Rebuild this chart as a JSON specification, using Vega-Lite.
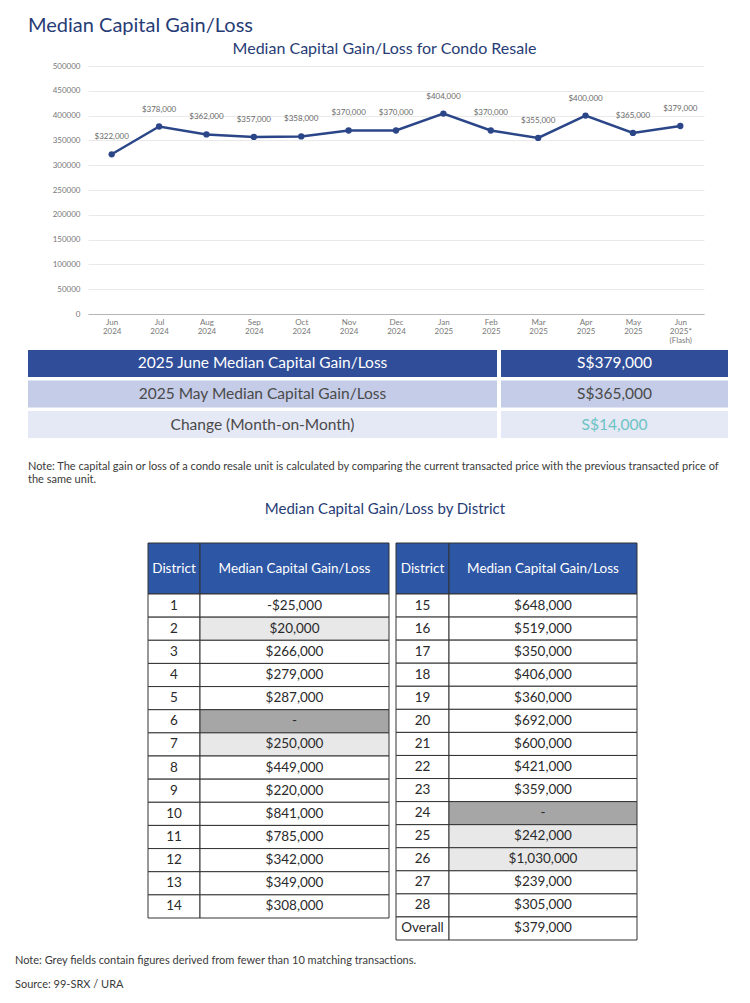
{
  "$schema": "https://vega.github.io/schema/vega-lite/v6.json",
  "background": "white",
  "padding": {"left": 15, "top": 16, "right": 10, "bottom": 10},
  "config": {
    "view": {"stroke": null},
    "font": "Lato",
    "locale": {"number": {"decimal": ".", "thousands": ",", "grouping": [3], "currency": ["$", ""], "minus": "-"}}
  },
  "datasets": {
    "monthly": [
      {"month": "Jun 2024", "gain": 322000},
      {"month": "Jul 2024", "gain": 378000},
      {"month": "Aug 2024", "gain": 362000},
      {"month": "Sep 2024", "gain": 357000},
      {"month": "Oct 2024", "gain": 358000},
      {"month": "Nov 2024", "gain": 370000},
      {"month": "Dec 2024", "gain": 370000},
      {"month": "Jan 2025", "gain": 404000},
      {"month": "Feb 2025", "gain": 370000},
      {"month": "Mar 2025", "gain": 355000},
      {"month": "Apr 2025", "gain": 400000},
      {"month": "May 2025", "gain": 365000},
      {"month": "Jun 2025* (Flash)", "gain": 379000}
    ],
    "summary": [
      {"metric": "2025 June Median Capital Gain/Loss", "value": "S$379,000", "kind": "current"},
      {"metric": "2025 May Median Capital Gain/Loss", "value": "S$365,000", "kind": "previous"},
      {"metric": "Change (Month-on-Month)", "value": "S$14,000", "kind": "change"}
    ],
    "headD": [{"column": "District"}],
    "headV": [{"column": "Median Capital Gain/Loss"}],
    "districtsA": [
      {"district": "1", "gain": -25000, "flag": "regular"},
      {"district": "2", "gain": 20000, "flag": "under10"},
      {"district": "3", "gain": 266000, "flag": "regular"},
      {"district": "4", "gain": 279000, "flag": "regular"},
      {"district": "5", "gain": 287000, "flag": "regular"},
      {"district": "6", "gain": null, "flag": "nodata"},
      {"district": "7", "gain": 250000, "flag": "under10"},
      {"district": "8", "gain": 449000, "flag": "regular"},
      {"district": "9", "gain": 220000, "flag": "regular"},
      {"district": "10", "gain": 841000, "flag": "regular"},
      {"district": "11", "gain": 785000, "flag": "regular"},
      {"district": "12", "gain": 342000, "flag": "regular"},
      {"district": "13", "gain": 349000, "flag": "regular"},
      {"district": "14", "gain": 308000, "flag": "regular"}
    ],
    "districtsB": [
      {"district": "15", "gain": 648000, "flag": "regular"},
      {"district": "16", "gain": 519000, "flag": "regular"},
      {"district": "17", "gain": 350000, "flag": "regular"},
      {"district": "18", "gain": 406000, "flag": "regular"},
      {"district": "19", "gain": 360000, "flag": "regular"},
      {"district": "20", "gain": 692000, "flag": "regular"},
      {"district": "21", "gain": 600000, "flag": "regular"},
      {"district": "22", "gain": 421000, "flag": "regular"},
      {"district": "23", "gain": 359000, "flag": "regular"},
      {"district": "24", "gain": null, "flag": "nodata"},
      {"district": "25", "gain": 242000, "flag": "under10"},
      {"district": "26", "gain": 1030000, "flag": "under10"},
      {"district": "27", "gain": 239000, "flag": "regular"},
      {"district": "28", "gain": 305000, "flag": "regular"},
      {"district": "Overall", "gain": 379000, "flag": "regular"}
    ]
  },
  "title": {
    "text": "Median Capital Gain/Loss",
    "anchor": "start", "frame": "group", "dx": 13,
    "fontSize": 20, "fontWeight": "normal", "color": "#273c75", "font": "Lato",
    "baseline": "alphabetic", "offset": -11
  },
  "vconcat": [
    {
      "width": 689,
      "height": 248,
      "title": {
        "text": "Median Capital Gain/Loss for Condo Resale",
        "anchor": "middle", "frame": "group", "dx": 25,
        "fontSize": 16, "fontWeight": "normal", "color": "#273c75", "font": "Lato",
        "baseline": "alphabetic", "offset": -8
      },
      "data": {"name": "monthly"},
      "encoding": {
        "x": {
          "field": "month", "type": "nominal", "sort": null,
          "scale": {"type": "point", "padding": 0.5, "range": [73, 689]},
          "axis": {
            "title": null, "labelAngle": 0, "labelExpr": "split(datum.value, ' ')",
            "labelFontSize": 8, "labelColor": "#777777", "labelLineHeight": 9,
            "ticks": false, "labelPadding": 4, "domainColor": "#b5b5b5", "grid": false
          }
        },
        "y": {
          "field": "gain", "type": "quantitative",
          "scale": {"domain": [0, 500000]},
          "axis": {
            "title": null, "values": [0, 50000, 100000, 150000, 200000, 250000, 300000, 350000, 400000, 450000, 500000],
            "format": "d", "labelFontSize": 8, "labelColor": "#777777",
            "ticks": false, "domain": false, "labelPadding": 8, "offset": -73,
            "gridColor": "#e9e9e9", "gridWidth": 1
          }
        }
      },
      "layer": [
        {"mark": {"type": "line", "color": "#2b4688", "strokeWidth": 2.5}},
        {"mark": {"type": "point", "filled": true, "color": "#2b4688", "size": 40, "opacity": 1}},
        {
          "mark": {"type": "text", "fontSize": 8, "color": "#6a6a6a", "dy": -17, "baseline": "middle"},
          "encoding": {"text": {"field": "gain", "type": "quantitative", "format": "$,.0f"}}
        }
      ]
    },
    {
      "width": 713,
      "height": 124,
      "data": {"name": "summary"},
      "title": {
        "text": ["Note: The capital gain or loss of a condo resale unit is calculated by comparing the current transacted price with the previous transacted price of", "the same unit."],
        "orient": "bottom", "anchor": "start", "frame": "group", "dx": 13,
        "fontSize": 11, "fontWeight": "normal", "color": "#3a3a3a", "font": "Lato",
        "baseline": "top", "lineHeight": 13, "offset": 23
      },
      "encoding": {
        "y": {"field": "metric", "type": "nominal", "sort": null, "axis": null, "scale": {"range": [36, 124], "paddingInner": 0.12, "paddingOuter": 0}}
      },
      "layer": [
        {
          "encoding": {"x": {"datum": "Metric", "type": "nominal", "axis": null, "scale": {"range": [13, 482], "paddingInner": 0, "paddingOuter": 0}}},
          "layer": [
            {
              "mark": {"type": "rect"},
              "encoding": {"fill": {"field": "kind", "type": "nominal", "legend": null, "scale": {"domain": ["current", "previous", "change"], "range": ["#2f4d98", "#c4cce7", "#e5e8f5"]}}}
            },
            {
              "mark": {"type": "text", "fontSize": 15.5, "baseline": "middle"},
              "encoding": {
                "text": {"field": "metric"},
                "color": {"field": "kind", "type": "nominal", "legend": null, "scale": {"domain": ["current", "previous", "change"], "range": ["#ffffff", "#4a4a4a", "#4a4a4a"]}}
              }
            }
          ]
        },
        {
          "encoding": {"x": {"datum": "Value", "type": "nominal", "axis": null, "scale": {"range": [486, 713], "paddingInner": 0, "paddingOuter": 0}}},
          "layer": [
            {
              "mark": {"type": "rect"},
              "encoding": {"fill": {"field": "kind", "type": "nominal", "legend": null, "scale": {"domain": ["current", "previous", "change"], "range": ["#2f4d98", "#c4cce7", "#e5e8f5"]}}}
            },
            {
              "mark": {"type": "text", "fontSize": 15.5, "baseline": "middle"},
              "encoding": {
                "text": {"field": "value"},
                "color": {"field": "kind", "type": "nominal", "legend": null, "scale": {"domain": ["current", "previous", "change"], "range": ["#ffffff", "#4a4a4a", "#6cc3c4"]}}
              }
            }
          ]
        }
      ],
      "resolve": {"scale": {"x": "independent", "color": "independent"}}
    },
    {
      "width": 622,
      "height": 156,
      "title": {
        "text": "Median Capital Gain/Loss by District",
        "anchor": "middle", "frame": "group", "dx": 59,
        "fontSize": 15, "fontWeight": "normal", "color": "#273c75", "font": "Lato",
        "baseline": "alphabetic", "offset": -91
      },
      "encoding": {
        "y": {"datum": "header", "type": "nominal", "axis": null, "scale": {"range": [105, 156], "paddingInner": 0, "paddingOuter": 0}}
      },
      "layer": [
        {
          "data": {"name": "headD"},
          "encoding": {"x": {"datum": "District", "type": "nominal", "axis": null, "scale": {"range": [133, 185], "paddingInner": 0, "paddingOuter": 0}}},
          "layer": [
            {"mark": {"type": "rect", "fill": "#2d56a5", "stroke": "#333333", "strokeWidth": 1}},
            {"mark": {"type": "text", "fontSize": 13.5, "color": "#ffffff", "baseline": "middle"}, "encoding": {"text": {"field": "column"}}}
          ]
        },
        {
          "data": {"name": "headV"},
          "encoding": {"x": {"datum": "Median", "type": "nominal", "axis": null, "scale": {"range": [185, 374], "paddingInner": 0, "paddingOuter": 0}}},
          "layer": [
            {"mark": {"type": "rect", "fill": "#2d56a5", "stroke": "#333333", "strokeWidth": 1}},
            {"mark": {"type": "text", "fontSize": 13.5, "color": "#ffffff", "baseline": "middle"}, "encoding": {"text": {"field": "column"}}}
          ]
        },
        {
          "data": {"name": "headD"},
          "encoding": {"x": {"datum": "District", "type": "nominal", "axis": null, "scale": {"range": [381, 434], "paddingInner": 0, "paddingOuter": 0}}},
          "layer": [
            {"mark": {"type": "rect", "fill": "#2d56a5", "stroke": "#333333", "strokeWidth": 1}},
            {"mark": {"type": "text", "fontSize": 13.5, "color": "#ffffff", "baseline": "middle"}, "encoding": {"text": {"field": "column"}}}
          ]
        },
        {
          "data": {"name": "headV"},
          "encoding": {"x": {"datum": "Median", "type": "nominal", "axis": null, "scale": {"range": [434, 622], "paddingInner": 0, "paddingOuter": 0}}},
          "layer": [
            {"mark": {"type": "rect", "fill": "#2d56a5", "stroke": "#333333", "strokeWidth": 1}},
            {"mark": {"type": "text", "fontSize": 13.5, "color": "#ffffff", "baseline": "middle"}, "encoding": {"text": {"field": "column"}}}
          ]
        }
      ],
      "resolve": {"scale": {"x": "independent"}}
    },
    {
      "width": 622,
      "height": 346,
      "title": {
        "text": ["Note: Grey fields contain figures derived from fewer than 10 matching transactions.", "Source: 99-SRX / URA"],
        "orient": "bottom", "anchor": "start", "frame": "group", "dx": 0,
        "fontSize": 11, "fontWeight": "normal", "color": "#3a3a3a", "font": "Lato",
        "baseline": "top", "lineHeight": 24, "offset": 14
      },
      "layer": [
        {
          "data": {"name": "districtsA"},
          "encoding": {
            "x": {"datum": "District", "type": "nominal", "axis": null, "scale": {"range": [133, 185], "paddingInner": 0, "paddingOuter": 0}},
            "y": {"field": "district", "type": "nominal", "sort": null, "axis": null, "scale": {"range": [0, 324], "paddingInner": 0, "paddingOuter": 0}}
          },
          "layer": [
            {"mark": {"type": "rect", "fill": "#ffffff", "stroke": "#333333", "strokeWidth": 1}},
            {"mark": {"type": "text", "fontSize": 13.5, "color": "#2a2a2a", "baseline": "middle"}, "encoding": {"text": {"field": "district"}}}
          ]
        },
        {
          "data": {"name": "districtsA"},
          "encoding": {
            "x": {"datum": "Median", "type": "nominal", "axis": null, "scale": {"range": [185, 374], "paddingInner": 0, "paddingOuter": 0}},
            "y": {"field": "district", "type": "nominal", "sort": null, "axis": null, "scale": {"range": [0, 324], "paddingInner": 0, "paddingOuter": 0}}
          },
          "layer": [
            {
              "mark": {"type": "rect", "stroke": "#333333", "strokeWidth": 1},
              "encoding": {"fill": {"field": "flag", "type": "nominal", "legend": null, "scale": {"domain": ["regular", "under10", "nodata"], "range": ["#ffffff", "#e8e8e8", "#a6a6a6"]}}}
            },
            {
              "mark": {"type": "text", "fontSize": 13.5, "color": "#2a2a2a", "baseline": "middle"},
              "encoding": {"text": {"condition": {"test": "datum.gain === null", "value": "-"}, "field": "gain", "type": "quantitative", "format": "$,.0f"}}
            }
          ]
        },
        {
          "data": {"name": "districtsB"},
          "encoding": {
            "x": {"datum": "District", "type": "nominal", "axis": null, "scale": {"range": [381, 434], "paddingInner": 0, "paddingOuter": 0}},
            "y": {"field": "district", "type": "nominal", "sort": null, "axis": null, "scale": {"range": [0, 346], "paddingInner": 0, "paddingOuter": 0}}
          },
          "layer": [
            {"mark": {"type": "rect", "fill": "#ffffff", "stroke": "#333333", "strokeWidth": 1}},
            {"mark": {"type": "text", "fontSize": 13.5, "color": "#2a2a2a", "baseline": "middle"}, "encoding": {"text": {"field": "district"}}}
          ]
        },
        {
          "data": {"name": "districtsB"},
          "encoding": {
            "x": {"datum": "Median", "type": "nominal", "axis": null, "scale": {"range": [434, 622], "paddingInner": 0, "paddingOuter": 0}},
            "y": {"field": "district", "type": "nominal", "sort": null, "axis": null, "scale": {"range": [0, 346], "paddingInner": 0, "paddingOuter": 0}}
          },
          "layer": [
            {
              "mark": {"type": "rect", "stroke": "#333333", "strokeWidth": 1},
              "encoding": {"fill": {"field": "flag", "type": "nominal", "legend": null, "scale": {"domain": ["regular", "under10", "nodata"], "range": ["#ffffff", "#e8e8e8", "#a6a6a6"]}}}
            },
            {
              "mark": {"type": "text", "fontSize": 13.5, "color": "#2a2a2a", "baseline": "middle"},
              "encoding": {"text": {"condition": {"test": "datum.gain === null", "value": "-"}, "field": "gain", "type": "quantitative", "format": "$,.0f"}}
            }
          ]
        }
      ],
      "resolve": {"scale": {"x": "independent", "y": "independent"}}
    }
  ],
  "spacing": 0,
  "bounds": "flush",
  "resolve": {"scale": {"color": "independent", "fill": "independent"}}
}
